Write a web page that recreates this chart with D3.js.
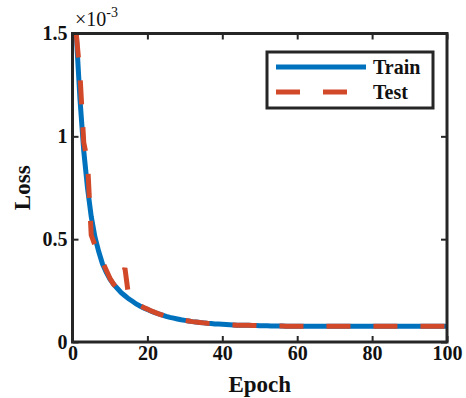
<!DOCTYPE html>
<html><head><meta charset="utf-8">
<script src="https://cdn.jsdelivr.net/npm/d3@7"></script>
<style>body{margin:0;background:#fff}svg{display:block}</style>
</head><body><svg id="c" width="466" height="398"></svg>
<script>
const epochs = d3.range(1, 101);
const trainLoss = [
 1.50,1.18,0.93,0.75,0.61,0.51,0.44,0.38,0.34,0.305,
 0.28,0.26,0.24,0.225,0.21,0.198,0.185,0.175,0.166,0.158,
 0.150,0.143,0.137,0.131,0.125,0.120,0.116,0.112,0.108,0.105,
 0.102,0.099,0.097,0.095,0.093,0.091,0.090,0.088,0.087,0.086,
 0.085,0.084,0.083,0.082,0.082,0.081,0.081,0.080,0.080,0.079,
 0.079,0.079,0.078,0.078,0.078,0.078,0.077,0.077,0.077,0.077,
 0.077,0.077,0.077,0.076,0.076,0.076,0.076,0.076,0.076,0.076,
 0.076,0.076,0.076,0.076,0.076,0.076,0.076,0.076,0.076,0.076,
 0.076,0.076,0.076,0.076,0.076,0.076,0.076,0.076,0.076,0.076,
 0.076,0.076,0.076,0.076,0.076,0.076,0.076,0.076,0.076,0.076];
const testLoss = [
 1.50,1.30,0.97,0.88,0.52,0.47,0.43,0.39,0.35,0.31,
 0.28,0.26,0.30,0.36,0.22,0.20,0.19,0.178,0.168,0.160,
 0.151,0.144,0.137,0.131,0.125,0.120,0.116,0.112,0.108,0.105,
 0.102,0.099,0.097,0.095,0.093,0.091,0.090,0.088,0.087,0.086,
 0.085,0.084,0.083,0.082,0.082,0.081,0.081,0.080,0.080,0.079,
 0.079,0.079,0.078,0.078,0.078,0.078,0.077,0.077,0.077,0.077,
 0.077,0.077,0.077,0.076,0.076,0.076,0.076,0.076,0.076,0.076,
 0.076,0.076,0.076,0.076,0.076,0.076,0.076,0.076,0.076,0.076,
 0.076,0.076,0.076,0.076,0.076,0.076,0.076,0.076,0.076,0.076,
 0.076,0.076,0.076,0.076,0.076,0.076,0.076,0.076,0.076,0.076];
const xTicks = [0,20,40,60,80,100];
const yTicks = [0,0.5,1,1.5];
const yTickLabels = ["0","0.5","1","1.5"];
const seriesNames = ["Train","Test"];

const svg = d3.select("#c");
const L=72.5, R=447, T=33.5, B=342;
const x = d3.scaleLinear().domain([0,100]).range([L,R]);
const y = d3.scaleLinear().domain([0,1.5]).range([B,T]);
const font = "'Liberation Serif','Times New Roman',serif";
const axisCol = "#262626";
const blue = "#0072BD", red = "#D2492A";

const line = d3.line().x((d,i)=>x(epochs[i])).y(d=>y(d));
svg.append("path").datum(trainLoss).attr("d", line)
  .attr("fill","none").attr("stroke",blue).attr("stroke-width",5);
svg.append("path").datum(testLoss).attr("d", line)
  .attr("fill","none").attr("stroke",red).attr("stroke-width",5)
  .attr("stroke-dasharray","24,23");

function styleAxis(g, showLabels){
  g.select(".domain").remove();
  g.selectAll(".tick line").attr("stroke",axisCol).attr("stroke-width",2);
  g.selectAll(".tick text").attr("fill","#111").style("font-family",font)
   .style("font-weight","bold").style("font-size","20px");
  if(!showLabels) g.selectAll(".tick text").remove();
}
svg.append("g").attr("transform",`translate(0,${B})`)
  .call(d3.axisBottom(x).tickValues(xTicks).tickSize(-6).tickPadding(4))
  .call(g=>styleAxis(g,true));
svg.append("g").attr("transform",`translate(0,${T})`)
  .call(d3.axisTop(x).tickValues(xTicks).tickSize(-6))
  .call(g=>styleAxis(g,false));
svg.append("g").attr("transform",`translate(${L},0)`)
  .call(d3.axisLeft(y).tickValues(yTicks).tickFormat((d,i)=>yTickLabels[i]).tickSize(-6).tickPadding(5))
  .call(g=>styleAxis(g,true));
svg.append("g").attr("transform",`translate(${R},0)`)
  .call(d3.axisRight(y).tickValues(yTicks).tickSize(-6))
  .call(g=>styleAxis(g,false));

svg.append("rect").attr("x",L).attr("y",T).attr("width",R-L).attr("height",B-T)
  .attr("fill","none").attr("stroke",axisCol).attr("stroke-width",3);

// exponent
const ex = svg.append("text").attr("x",75).attr("y",26).style("font-family",font)
  .style("font-size","20px").attr("fill","#111");
ex.append("tspan").text("×10");
ex.append("tspan").attr("dy",-9).style("font-size","14px").text("-3");

// axis labels
svg.append("text").attr("x",(L+R)/2).attr("y",392).attr("text-anchor","middle")
  .style("font-family",font).style("font-weight","bold").style("font-size","23px")
  .attr("fill","#111").text("Epoch");
svg.append("text").attr("transform",`translate(30,${(T+B)/2}) rotate(-90)`)
  .attr("text-anchor","middle").style("font-family",font).style("font-weight","bold")
  .style("font-size","23px").attr("fill","#111").text("Loss");

// legend
const lg = svg.append("g");
lg.append("rect").attr("x",267).attr("y",52).attr("width",166).attr("height",56)
  .attr("fill","#fff").attr("stroke",axisCol).attr("stroke-width",3);
const rows = [{c:blue,dash:null,yy:67},{c:red,dash:"24,23",yy:92}];
rows.forEach((r,i)=>{
  lg.append("line").attr("x1",276).attr("x2",366).attr("y1",r.yy).attr("y2",r.yy)
    .attr("stroke",r.c).attr("stroke-width",5).attr("stroke-dasharray",r.dash);
  lg.append("text").attr("x",373).attr("y",r.yy+7).style("font-family",font)
    .style("font-weight","bold").style("font-size","20px").attr("fill","#111")
    .text(seriesNames[i]);
});
</script></body></html>
